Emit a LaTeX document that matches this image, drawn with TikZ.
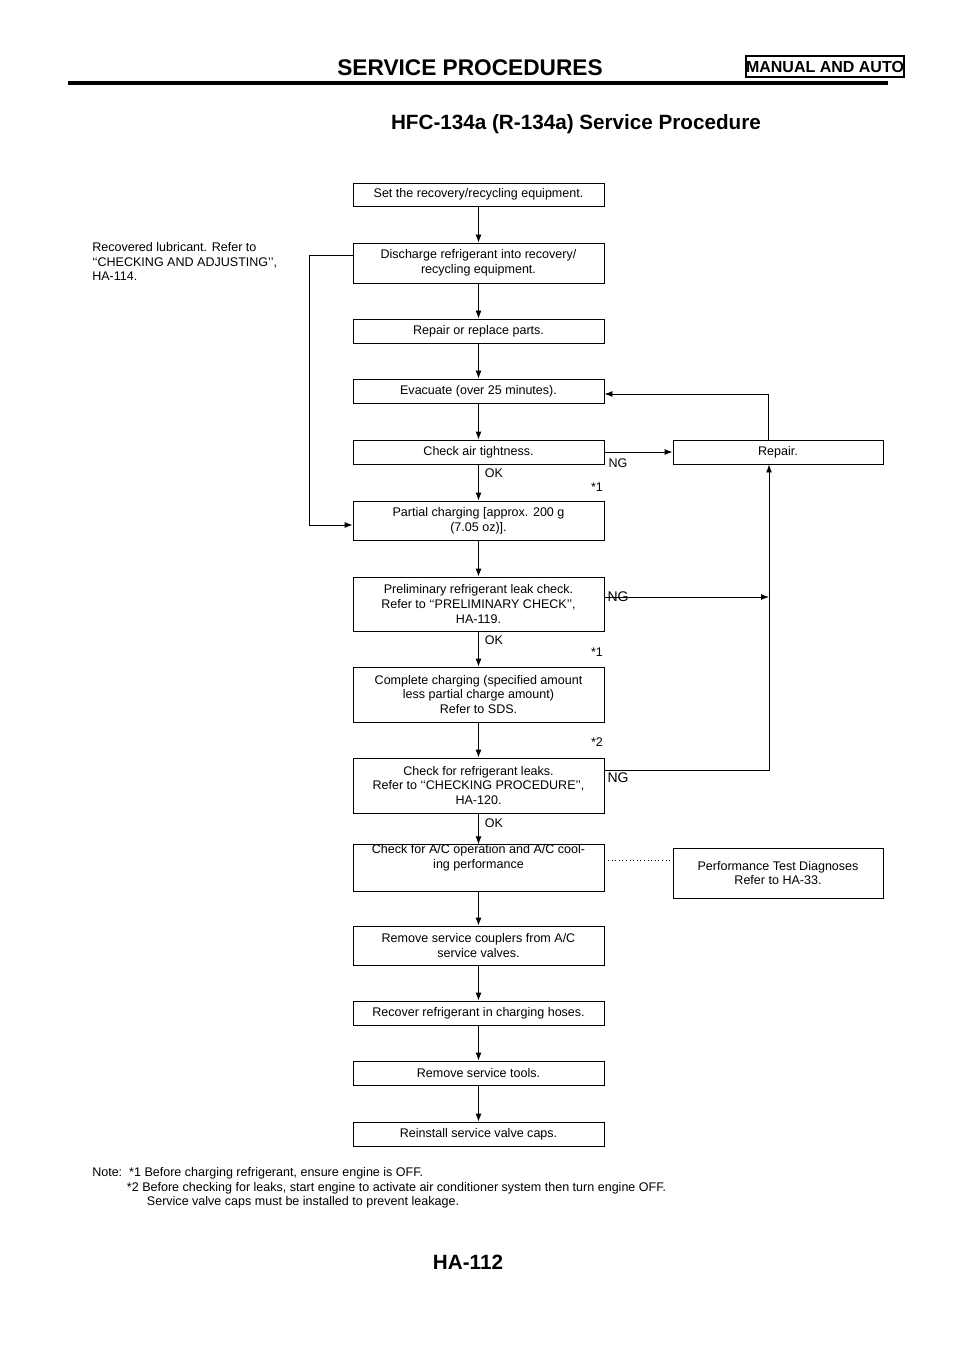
\documentclass[tikz,border=0pt]{standalone}
\usepackage{fontspec}
\setmainfont{Liberation Sans}
\usetikzlibrary{arrows.meta}
\begin{document}
\begin{tikzpicture}[x=0.75pt,y=-0.75pt,
  box/.style={draw,line width=0.7pt,align=center,font=\fontsize{9.4}{11}\selectfont,inner sep=0pt},
  lbl/.style={font=\fontsize{9.4}{11}\selectfont,inner sep=0pt},
  arr/.style={line width=0.7pt,-{Latex[length=6pt,width=4.5pt]}},
  ln/.style={line width=0.7pt}]
\useasboundingbox (0,0) rectangle (960,1358);
% header
\node[font=\fontsize{17}{20}\selectfont\bfseries] (hd) at (470,68) {SERVICE PROCEDURES};
\node[draw,line width=1pt,minimum width=126*0.75pt,minimum height=21*0.75pt,inner sep=0pt,font=\fontsize{12}{14}\selectfont\bfseries] (ma) at (825,66.5) {MANUAL AND AUTO};
\draw[line width=2.5pt] (68,83) -- (888,83);
\node[font=\fontsize{15.5}{18}\selectfont\bfseries] (tt) at (576,124) {HFC-134a (R-134a) Service Procedure};
\node[font=\fontsize{15.5}{18}\selectfont\bfseries] (ft) at (468,1262) {HA-112};
% boxes
\def\bx#1#2#3#4{\node[box,minimum width=251*0.75pt,minimum height={(#3-#2)*0.75pt}] (#1) at (478.5,{(#2+#3)/2}) {#4};}
\bx{b1}{183}{206}{Set the recovery/recycling equipment.}
\bx{b2}{243}{283}{Discharge refrigerant into recovery/\\recycling equipment.}
\bx{b3}{319}{343}{Repair or replace parts.}
\bx{b4}{379}{403}{Evacuate (over 25 minutes).}
\bx{b5}{440}{464}{Check air tightness.}
\bx{b6}{501}{540}{Partial charging [approx. 200 g\\(7.05 oz)].}
\bx{b7}{577}{631}{Preliminary refrigerant leak check.\\Refer to ‘‘PRELIMINARY CHECK’’,\\HA-119.}
\bx{b8}{667}{722}{Complete charging (specified amount\\less partial charge amount)\\Refer to SDS.}
\bx{b9}{758}{813}{Check for refrigerant leaks.\\Refer to ‘‘CHECKING PROCEDURE’’,\\HA-120.}
\bx{b10}{848}{888}{Check for A/C operation and A/C cool-\\ing performance\\[6pt]}
\bx{b11}{926}{965}{Remove service couplers from A/C\\service valves.}
\bx{b12}{1001}{1025}{Recover refrigerant in charging hoses.}
\bx{b13}{1061}{1085}{Remove service tools.}
\bx{b14}{1122}{1146}{Reinstall service valve caps.}
\node[box,minimum width=210*0.75pt,minimum height=24*0.75pt] (rp) at (778,452) {Repair.};
\node[box,minimum width=210*0.75pt,minimum height=50*0.75pt] (pt) at (778,873) {Performance Test Diagnoses\\Refer to HA-33.};
% vertical arrows
\foreach \a/\b in {b1/b2,b2/b3,b3/b4,b4/b5,b5/b6,b6/b7,b7/b8,b8/b9,b9/b10,b10/b11,b11/b12,b12/b13,b13/b14}
  \draw[arr] (\a.south) -- (\b.north);
% labels
\node[lbl] (ok1) at (494,473) {OK};
\node[lbl] (ok2) at (494,640) {OK};
\node[lbl] (ok3) at (494,823) {OK};
\node[lbl] (ng1) at (618,463) {NG};
\node[lbl,font=\fontsize{10.5}{12}\selectfont] (ng2) at (618,597) {NG};
\node[lbl,font=\fontsize{10.5}{12}\selectfont] (ng3) at (618,778) {NG};
\node[lbl] (s1) at (597,487) {*1};
\node[lbl] (s2) at (597,652) {*1};
\node[lbl] (s3) at (597,742) {*2};
\node[lbl,align=left,anchor=north west] (rl) at (92,242) {Recovered lubricant. Refer to\\‘‘CHECKING AND ADJUSTING’’,\\HA-114.};
\node[lbl,align=left,anchor=north west] (nt) at (92,1167) {Note:\ \ *1 Before charging refrigerant, ensure engine is OFF.\\
\hspace*{26pt}*2 Before checking for leaks, start engine to activate air conditioner system then turn engine OFF.\\
\hspace*{41pt}Service valve caps must be installed to prevent leakage.};
% side connectors
\coordinate (c1) at (768,394);
\coordinate (c2) at (769,597);
\coordinate (c3) at (769,770);
\draw[arr] (rp.north -| c1) -- (c1) -- (c1 -| b4.east);
\draw[arr] (b5.east) -- (rp.west);
\draw[arr] (b7.east |- c2) -- (c2);
\draw[arr] (b9.east |- c3) -- (c3) -- (rp.south -| c3);
\draw[line width=0.7pt,dotted] (b10.east |- 0,860) -- (pt.west |- 0,860);
\coordinate (l1) at (309,255);
\coordinate (l2) at (309,525);
\draw[arr] (b2.west |- l1) -- (l1) -- (l2) -- (b6.west |- l2);
\end{tikzpicture}
\end{document}
